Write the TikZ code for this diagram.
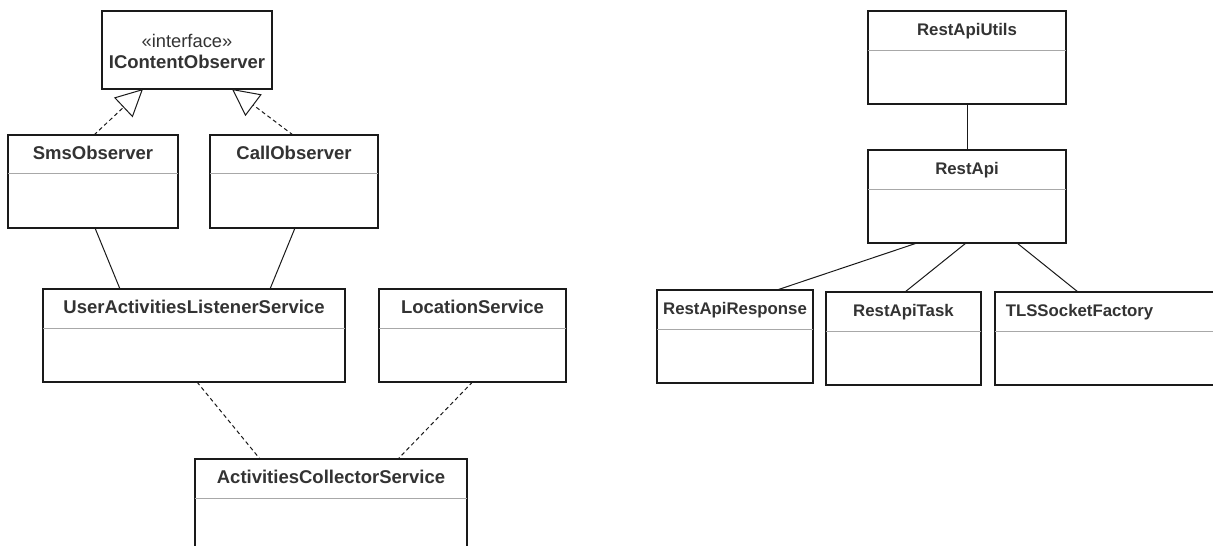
\documentclass[tikz,border=0pt]{standalone}
\usepackage{fontspec}
\setmainfont{Liberation Sans}
\usetikzlibrary{arrows.meta}
\definecolor{txt}{HTML}{333333}
\definecolor{sepc}{HTML}{A8A8A8}
\definecolor{edge}{HTML}{1A1A1A}
\tikzset{
  cls/.style={draw=edge, line width=1.4pt, rectangle, inner sep=0pt, outer sep=0pt, fill=white},
  ttl/.style={anchor=base, inner sep=0pt, text=txt, font=\fontsize{18.5}{20}\selectfont\bfseries},
  ttlr/.style={anchor=base, inner sep=0pt, text=txt, font=\fontsize{16.8}{18}\selectfont\bfseries},
  stereo/.style={anchor=base, inner sep=0pt, text=txt, font=\fontsize{18.3}{20}\selectfont},
  sepline/.style={draw=sepc, line width=1pt},
  assoc/.style={draw=edge, line width=1pt},
  depl/.style={draw=edge, line width=1pt, dash pattern=on 4pt off 3pt},
  real/.style={depl, -{Triangle[open, length=27pt, width=27pt, fill=white]}},
}
% #1 name, #2 x1, #3 y1, #4 x2, #5 y2, #6 separator y, #7 title style, #8 title
\newcommand\classbox[8]{%
  \node[cls, minimum width={#4-#2}, minimum height={#5-#3}] (#1) at ({(#2+#4)/2},{(#3+#5)/2}) {};
  \draw[sepline] (#1.west |- 0,#6) -- (#1.east |- 0,#6);
  \node[#7] (#1-t) at ({(#2+#4)/2},{#3+24}) {#8};
}
\begin{document}
\begin{tikzpicture}[x=1pt,y=-1pt]
\useasboundingbox (0,0) rectangle (1213,546);
\clip (0,0) rectangle (1213,546);
\fill[white] (0,0) rectangle (1213,546);

% interface
\node[cls, minimum width=170, minimum height=78] (ico) at (187,50) {};
\node[stereo] (ico-s) at (187,47) {«interface»};
\node[ttl] (ico-t) at (187,68) {IContentObserver};

\classbox{sms}{8}{135}{178}{228}{173}{ttl}{SmsObserver}
\classbox{call}{210}{135}{378}{228}{173}{ttl}{CallObserver}
\classbox{ua}{43}{289}{345}{382}{328}{ttl}{UserActivitiesListenerService}
\classbox{loc}{379}{289}{566}{382}{328}{ttl}{LocationService}
\classbox{acs}{195}{459}{467}{570}{498}{ttl}{ActivitiesCollectorService}

\classbox{utils}{868}{11}{1066}{104}{50}{ttlr}{RestApiUtils}
\classbox{api}{868}{150}{1066}{243}{189}{ttlr}{RestApi}
\classbox{resp}{657}{290}{813}{383}{329}{ttlr}{RestApiResponse}
\classbox{task}{826}{292}{981}{385}{331}{ttlr}{RestApiTask}
\node[cls, minimum width=240, minimum height=93] (tls) at (1115,338.5) {};
\draw[sepline] (tls.west |- 0,331) -- (tls.east |- 0,331);
\node[ttlr] (tls-t) at (1079.5,316) {TLSSocketFactory};

% connectors, left
\draw[real] ([xshift=1pt]sms.north) -- ([xshift=-44pt]ico.south);
\draw[real] ([xshift=-1pt]call.north) -- ([xshift=45pt]ico.south);
\draw[assoc] ([xshift=2pt]sms.south) -- ([xshift=-74pt]ua.north);
\draw[assoc] ([xshift=1pt]call.south) -- ([xshift=76pt]ua.north);
\draw[depl] ([xshift=3pt]ua.south) -- ([xshift=-71pt]acs.north);
\draw[depl] ([xshift=0pt]loc.south) -- ([xshift=67pt]acs.north);

% connectors, right
\draw[assoc] (utils.south) -- (api.north);
\draw[assoc] ([xshift=-50pt]api.south) -- ([xshift=42pt]resp.north);
\draw[assoc] ([xshift=-1pt]api.south) -- ([xshift=1.5pt]task.north);
\draw[assoc] ([xshift=50pt]api.south) -- ([xshift=83pt]tls.north west);
\end{tikzpicture}
\end{document}
